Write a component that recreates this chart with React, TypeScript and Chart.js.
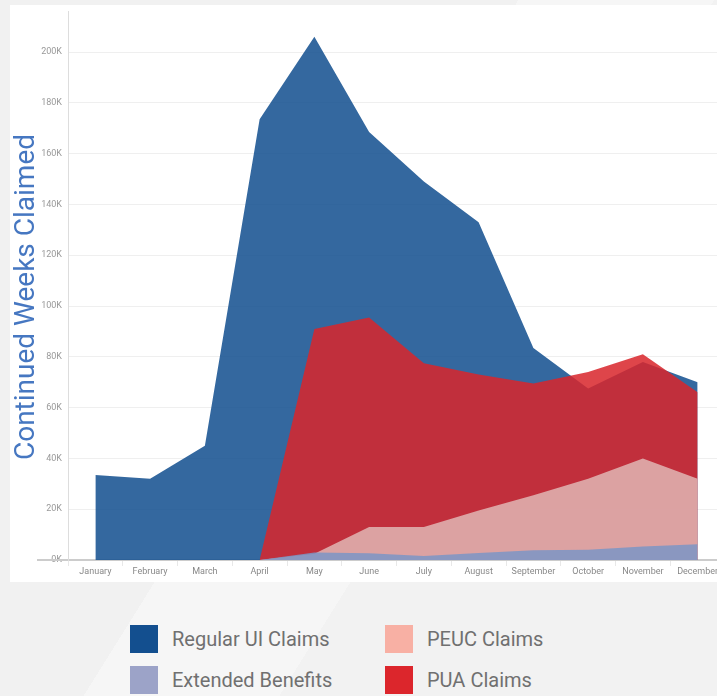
import React, { useEffect, useRef } from "react";
import { Chart, registerables } from "chart.js";

Chart.register(...registerables);

const months = [
  "January", "February", "March", "April", "May", "June",
  "July", "August", "September", "October", "November", "December",
];
const regularUI = [33500, 32000, 45000, 173500, 206000, 168500, 149000, 133000, 83500, 67500, 78000, 70000];
const puaClaims = [null, null, null, 0, 91000, 95500, 77500, 73000, 69500, 74000, 81000, 66000];
const peucClaims = [null, null, null, 0, 2500, 13000, 13000, 19500, 25500, 32000, 40000, 32000];
const extendedBenefits = [null, null, null, 0, 3000, 2700, 1600, 2800, 3800, 4000, 5300, 6200];
const yTickValues = [0, 20000, 40000, 60000, 80000, 100000, 120000, 140000, 160000, 180000, 200000];

const yAxisTitle = "Continued Weeks Claimed";

const legendItems = [
  { label: "Regular UI Claims", color: "#134f8f" },
  { label: "PEUC Claims", color: "#f8b0a4" },
  { label: "Extended Benefits", color: "#9ca3c8" },
  { label: "PUA Claims", color: "#dc262c" },
];

const titlePlugin = {
  id: "customDecor",
  afterDraw(chart: any) {
    const ctx = chart.ctx;
    const area = chart.chartArea;
    ctx.save();
    ctx.strokeStyle = "#cccccc";
    ctx.lineWidth = 2;
    ctx.beginPath();
    ctx.moveTo(37, area.bottom);
    ctx.lineTo(area.left, area.bottom);
    ctx.stroke();
    ctx.translate(34, 297);
    ctx.rotate(-Math.PI / 2);
    ctx.font = "28px Roboto";
    ctx.fillStyle = "#4677c1";
    ctx.textAlign = "center";
    ctx.textBaseline = "alphabetic";
    ctx.fillText(yAxisTitle, 0, 0);
    ctx.restore();
  },
};

export default function App() {
  const canvasRef = useRef<HTMLCanvasElement | null>(null);

  useEffect(() => {
    if (!canvasRef.current) return;
    const tickFont = { family: "Roboto", size: 9 };
    const chart = new Chart(canvasRef.current, {
      type: "line",
      data: {
        labels: months,
        datasets: [
          {
            label: "Extended Benefits",
            data: extendedBenefits,
            backgroundColor: "rgba(125,149,197,0.86)",
            borderWidth: 0,
            pointRadius: 0,
            fill: "origin",
            order: 1,
          },
          {
            label: "PEUC Claims",
            data: peucClaims,
            backgroundColor: "rgba(225,182,180,0.86)",
            borderWidth: 0,
            pointRadius: 0,
            fill: "origin",
            order: 2,
          },
          {
            label: "PUA Claims",
            data: puaClaims,
            backgroundColor: "rgba(216,38,44,0.86)",
            borderWidth: 0,
            pointRadius: 0,
            fill: "origin",
            order: 3,
          },
          {
            label: "Regular UI Claims",
            data: regularUI,
            backgroundColor: "rgba(19,79,143,0.86)",
            borderWidth: 0,
            pointRadius: 0,
            fill: "origin",
            order: 4,
          },
        ],
      },
      options: {
        responsive: false,
        animation: false,
        devicePixelRatio: 1,
        layout: { padding: { top: 5, left: 0, right: 0, bottom: 0 } },
        plugins: {
          legend: { display: false },
          tooltip: { enabled: false },
        },
        elements: { line: { tension: 0 } },
        scales: {
          x: {
            offset: true,
            grid: {
              offset: true,
              drawOnChartArea: false,
              drawTicks: true,
              tickLength: 6,
              color: "#e8e8e8",
            },
            border: { display: true, color: "#cccccc", width: 2 },
            ticks: {
              font: tickFont,
              color: "#888888",
              padding: 0,
              maxRotation: 0,
              autoSkip: false,
            },
            afterFit: (s: any) => {
              s.height = 25;
            },
          },
          y: {
            min: 0,
            max: 216000,
            grid: { color: "#efefef", drawTicks: false },
            border: { display: true, color: "#dddddd", width: 1 },
            ticks: {
              font: tickFont,
              color: "#999999",
              padding: 6,
              autoSkip: false,
              callback: (v: any) => Number(v) / 1000 + "K",
            },
            afterBuildTicks: (s: any) => {
              s.ticks = yTickValues.map((v) => ({ value: v }));
            },
            afterFit: (s: any) => {
              s.width = 68;
            },
          },
        },
      },
      plugins: [titlePlugin],
    } as any);
    return () => chart.destroy();
  }, []);

  return (
    <div
      style={{
        position: "fixed",
        left: 0,
        top: 0,
        width: 717,
        height: 696,
        overflow: "hidden",
        background:
          "linear-gradient(122deg, #f1f1f1 0%, #f1f1f1 45%, #f6f6f6 45%, #f6f6f6 62%, #f2f2f2 62%, #f2f2f2 100%)",
        fontFamily: "Roboto, sans-serif",
      }}
    >
      <div
        style={{
          position: "absolute",
          left: 10,
          top: 5,
          width: 720,
          height: 577,
          background: "#ffffff",
        }}
      />
      <canvas
        ref={canvasRef}
        width={725}
        height={585}
        style={{ position: "absolute", left: 0, top: 0, width: 725, height: 585 }}
      />
      {legendItems.map((item, i) => {
        const col = i % 2;
        const row = Math.floor(i / 2);
        const left = col === 0 ? 130 : 385;
        const top = 625 + row * 41;
        return (
          <div
            key={item.label}
            style={{ position: "absolute", left, top, height: 28, display: "flex", alignItems: "center" }}
          >
            <div style={{ width: 28, height: 28, background: item.color }} />
            <span style={{ marginLeft: 14, fontSize: 20, color: "#707070", whiteSpace: "nowrap" }}>
              {item.label}
            </span>
          </div>
        );
      })}
    </div>
  );
}
